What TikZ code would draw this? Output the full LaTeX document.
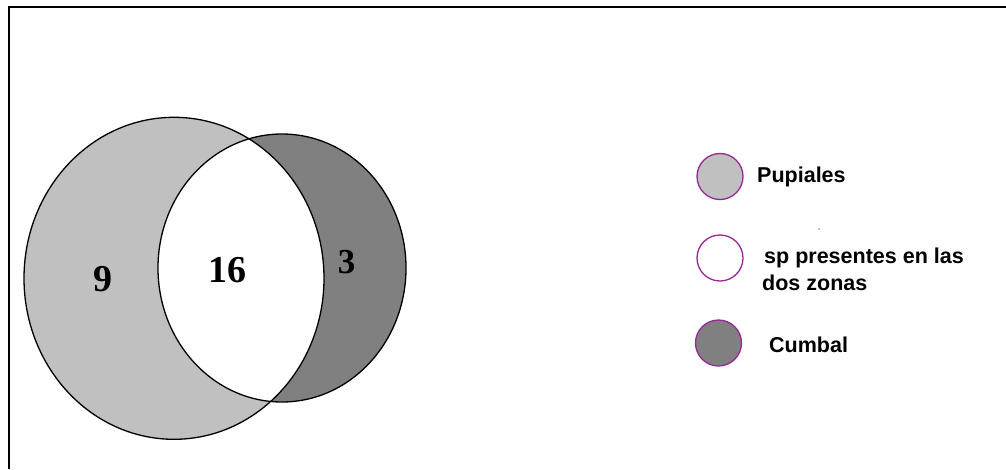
\documentclass[tikz,border=0pt]{standalone}
\usepackage{fontspec}
\setmainfont{Liberation Serif}
\newfontfamily\legfont{Liberation Sans}
\definecolor{lgray}{HTML}{C0C0C0}
\definecolor{dgray}{HTML}{808080}
\definecolor{legpurple}{RGB}{150,40,150}
\begin{document}
\begin{tikzpicture}[x=1pt,y=-1pt,
  legcircle/.style={circle,draw=legpurple,line width=1.3pt,minimum size=46pt,inner sep=0pt},
  legtext/.style={font=\legfont\bfseries\fontsize{21.5}{27}\selectfont,anchor=base west,inner sep=0pt},
  numtext/.style={font=\bfseries\fontsize{38}{40}\selectfont,anchor=base,inner sep=0pt},
  outline/.style={draw=black,line width=1.3pt}]
\useasboundingbox (0,0) rectangle (1006,469);
\fill[white] (0,0) rectangle (1006,469);
\draw[line width=2.4pt] (9,469) -- (9,7) -- (1006,7);
% Venn
\fill[lgray] (174,278.3) ellipse [x radius=150pt, y radius=161pt];
\fill[dgray] (282,268) ellipse [x radius=124pt, y radius=134pt];
\begin{scope}
  \clip (174,278.3) ellipse [x radius=150pt, y radius=161pt];
  \fill[white] (282,268) ellipse [x radius=124pt, y radius=134pt];
\end{scope}
\draw[outline] (174,278.3) ellipse [x radius=150pt, y radius=161pt];
\draw[outline] (282,268) ellipse [x radius=124pt, y radius=134pt];
\node[numtext] (n9) at (103,291) {9};
\node[numtext] (n16) at (227,282) {16};
\node[numtext,font=\bfseries\fontsize{35}{38}\selectfont] (n3) at (346.5,273) {3};
% Legend
\node[legcircle,fill=lgray] (c1) at (720,176.5) {};
\node[legcircle,fill=white] (c2) at (720,258) {};
\node[legcircle,fill=dgray] (c3) at (718.5,343) {};
\node[legtext] (t1) at (757,182) {Pupiales};
\node[legtext] (t2) at (764,263) {sp presentes en las};
\node[legtext] (t3) at (762,290.5) {dos zonas};
\node[legtext] (t4) at (769,352) {Cumbal};
\fill[gray] (819,229) circle (0.8pt);
\end{tikzpicture}
\end{document}
